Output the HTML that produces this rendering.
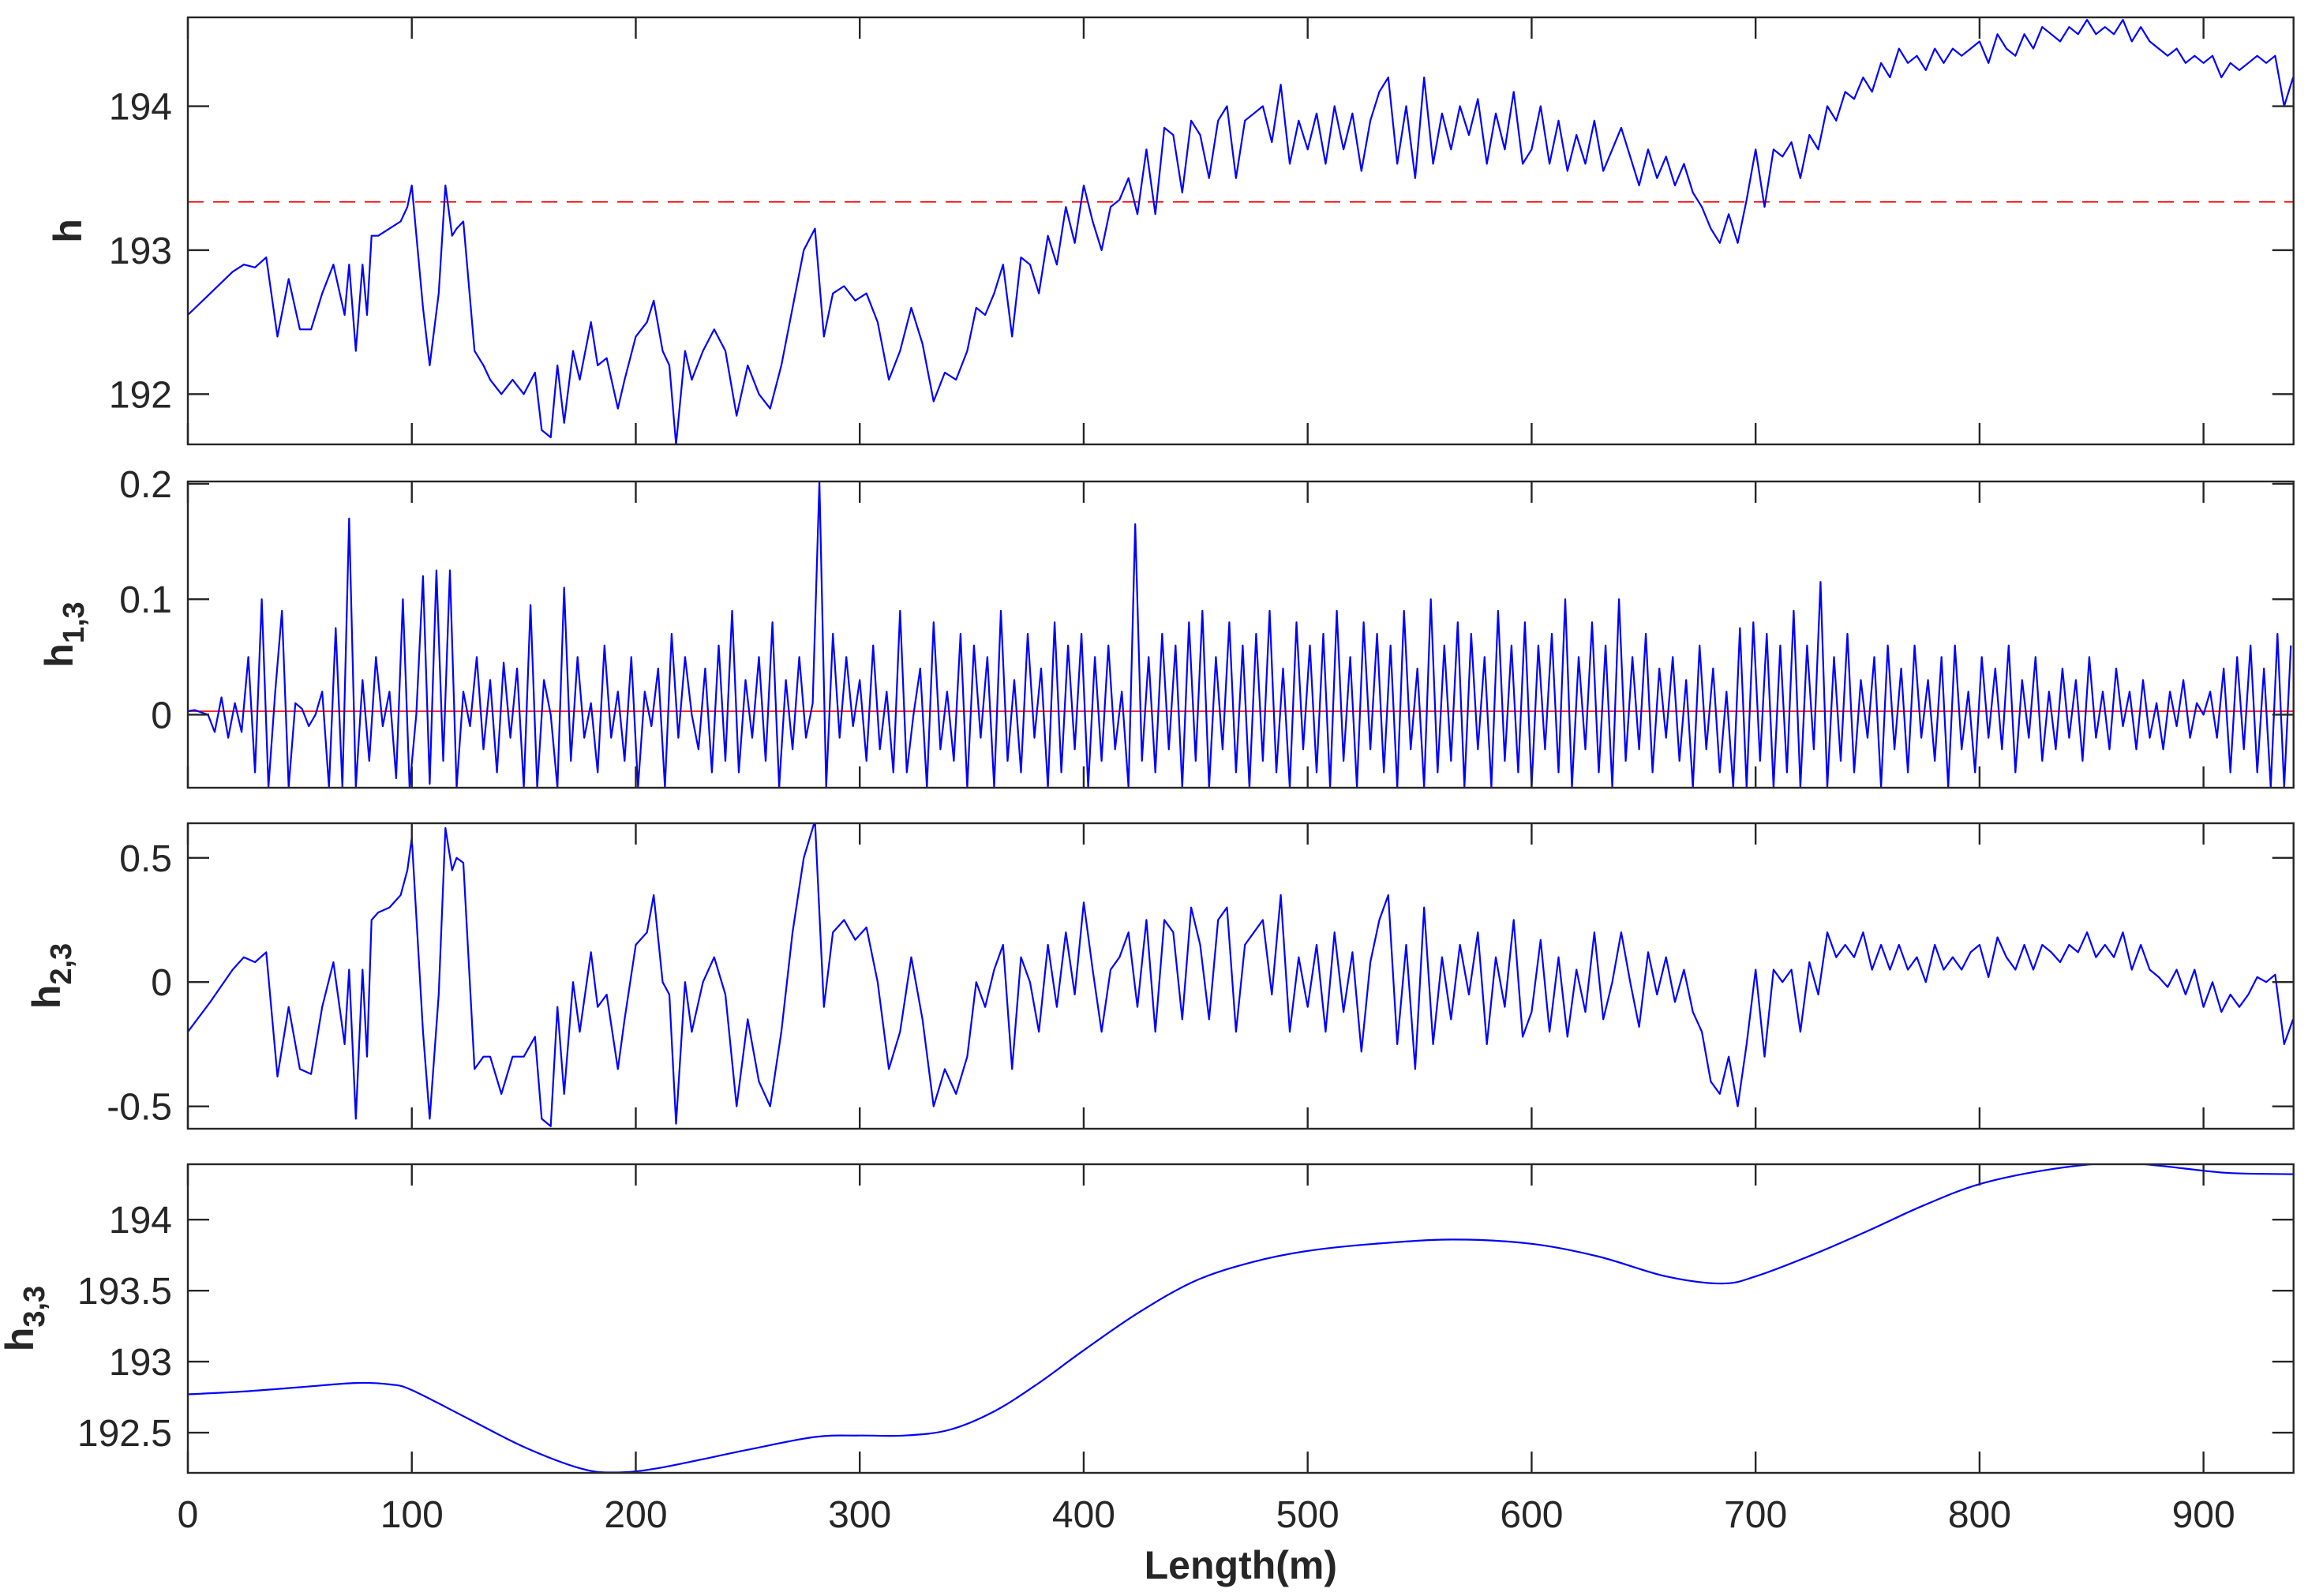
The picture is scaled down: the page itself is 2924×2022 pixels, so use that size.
<!DOCTYPE html>
<html><head><meta charset="utf-8">
<style>
html,body{margin:0;padding:0;background:#fff;}
svg{display:block;font-family:"Liberation Sans",Arial,sans-serif;}
</style></head>
<body>
<svg id="fig" width="2924" height="2022" viewBox="0 0 2924 2022" xmlns="http://www.w3.org/2000/svg"></svg>
<script>
const X_TICKS=[0,100,200,300,400,500,600,700,800,900];
const X_MAX=940.2;
const H_X=[0,10,20,25,30,35,40,45,50,55,60,65,70,72,75,78,80,82,85,90,95,98,100,105,108,112,115,118,120,123,128,132,135,140,145,150,155,158,162,165,168,172,175,180,183,187,192,195,200,205,208,212,215,218,222,225,230,235,240,245,250,255,260,265,270,275,280,284,288,293,298,303,308,313,318,323,328,333,338,343,348,352,356,360,364,368,372,376,380,384,388,392,396,400,404,408,412,416,420,424,428,432,436,440,444,448,452,456,460,464,468,472,476,480,484,488,492,496,500,504,508,512,516,520,524,528,532,536,540,544,548,552,556,560,564,568,572,576,580,584,588,592,596,600,604,608,612,616,620,624,628,632,636,640,644,648,652,656,660,664,668,672,676,680,684,688,692,696,700,704,708,712,716,720,724,728,732,736,740,744,748,752,756,760,764,768,772,776,780,784,788,792,796,800,804,808,812,816,820,824,828,832,836,840,844,848,852,856,860,864,868,872,876,880,884,888,892,896,900,904,908,912,916,920,924,928,932,936,940];
const H_VALUES=[192.55,192.7,192.85,192.9,192.88,192.95,192.4,192.8,192.45,192.45,192.7,192.9,192.55,192.9,192.3,192.9,192.55,193.1,193.1,193.15,193.2,193.3,193.45,192.6,192.2,192.7,193.45,193.1,193.15,193.2,192.3,192.2,192.1,192.0,192.1,192.0,192.15,191.75,191.7,192.2,191.8,192.3,192.1,192.5,192.2,192.25,191.9,192.1,192.4,192.5,192.65,192.3,192.2,191.65,192.3,192.1,192.3,192.45,192.3,191.85,192.2,192.0,191.9,192.2,192.6,193.0,193.15,192.4,192.7,192.75,192.65,192.7,192.5,192.1,192.3,192.6,192.35,191.95,192.15,192.1,192.3,192.6,192.55,192.7,192.9,192.4,192.95,192.9,192.7,193.1,192.9,193.3,193.05,193.45,193.2,193.0,193.3,193.35,193.5,193.25,193.7,193.25,193.85,193.8,193.4,193.9,193.8,193.5,193.9,194.0,193.5,193.9,193.95,194.0,193.75,194.15,193.6,193.9,193.7,193.95,193.6,194.0,193.7,193.95,193.55,193.9,194.1,194.2,193.6,194.0,193.5,194.2,193.6,193.95,193.7,194.0,193.8,194.05,193.6,193.95,193.7,194.1,193.6,193.7,194.0,193.6,193.9,193.55,193.8,193.6,193.9,193.55,193.7,193.85,193.65,193.45,193.7,193.5,193.65,193.45,193.6,193.4,193.3,193.15,193.05,193.25,193.05,193.35,193.7,193.3,193.7,193.65,193.75,193.5,193.8,193.7,194.0,193.9,194.1,194.05,194.2,194.1,194.3,194.2,194.4,194.3,194.35,194.25,194.4,194.3,194.4,194.35,194.4,194.45,194.3,194.5,194.4,194.35,194.5,194.4,194.55,194.5,194.45,194.55,194.5,194.6,194.5,194.55,194.5,194.6,194.45,194.55,194.45,194.4,194.35,194.4,194.3,194.35,194.3,194.35,194.2,194.3,194.25,194.3,194.35,194.3,194.35,194.0,194.2];
const H_MEAN=193.335;
const H13_STEP=3;
const H13_VALUES=[0.003,0.004,0.002,0.0,-0.015,0.015,-0.02,0.01,-0.015,0.05,
-0.05,0.1,-0.063,0.02,0.09,-0.063,0.01,0.005,-0.01,0.0,
0.02,-0.063,0.075,-0.063,0.17,-0.063,0.03,-0.04,0.05,-0.01,
0.02,-0.055,0.1,-0.063,0.0,0.12,-0.06,0.125,-0.04,0.125,
-0.063,0.02,-0.01,0.05,-0.03,0.03,-0.05,0.045,-0.02,0.04,
-0.063,0.095,-0.063,0.03,0.0,-0.063,0.11,-0.04,0.05,-0.02,
0.01,-0.05,0.06,-0.02,0.02,-0.04,0.05,-0.063,0.02,-0.01,
0.04,-0.063,0.07,-0.02,0.05,0.0,-0.03,0.04,-0.05,0.06,
-0.04,0.09,-0.05,0.03,-0.02,0.05,-0.04,0.08,-0.063,0.03,
-0.03,0.05,-0.02,0.01,0.202,-0.063,0.07,-0.02,0.05,-0.01,
0.03,-0.04,0.06,-0.03,0.02,-0.05,0.09,-0.05,0.0,0.04,
-0.063,0.08,-0.03,0.02,-0.04,0.07,-0.063,0.06,-0.02,0.05,
-0.063,0.09,-0.04,0.03,-0.05,0.07,-0.02,0.04,-0.063,0.08,
-0.05,0.06,-0.03,0.07,-0.063,0.05,-0.04,0.06,-0.03,0.02,
-0.063,0.165,-0.04,0.05,-0.05,0.07,-0.03,0.06,-0.063,0.08,
-0.04,0.09,-0.063,0.05,-0.03,0.08,-0.05,0.06,-0.063,0.07,
-0.04,0.09,-0.05,0.04,-0.063,0.08,-0.03,0.06,-0.05,0.07,
-0.063,0.09,-0.04,0.05,-0.063,0.08,-0.03,0.07,-0.05,0.06,
-0.063,0.09,-0.03,0.04,-0.063,0.1,-0.05,0.06,-0.04,0.08,
-0.063,0.07,-0.03,0.05,-0.063,0.09,-0.04,0.06,-0.05,0.08,
-0.063,0.06,-0.03,0.07,-0.05,0.1,-0.063,0.05,-0.03,0.08,
-0.05,0.06,-0.063,0.1,-0.04,0.05,-0.03,0.07,-0.05,0.04,
-0.02,0.05,-0.04,0.03,-0.063,0.06,-0.03,0.04,-0.05,0.02,
-0.063,0.075,-0.063,0.08,-0.04,0.07,-0.063,0.06,-0.05,0.09,
-0.063,0.06,-0.03,0.115,-0.063,0.05,-0.04,0.07,-0.05,0.03,
-0.02,0.05,-0.063,0.06,-0.03,0.04,-0.05,0.06,-0.02,0.03,
-0.04,0.05,-0.063,0.06,-0.03,0.02,-0.05,0.05,-0.02,0.04,
-0.03,0.06,-0.05,0.03,-0.02,0.05,-0.04,0.02,-0.03,0.04,
-0.02,0.03,-0.04,0.05,-0.02,0.02,-0.03,0.04,-0.01,0.02,
-0.03,0.03,-0.02,0.01,-0.03,0.02,-0.01,0.03,-0.02,0.01,
0.0,0.02,-0.02,0.04,-0.05,0.05,-0.03,0.06,-0.05,0.04,
-0.063,0.07,-0.063,0.06];
const H13_MEAN=0.003;
const H23_VALUES=[-0.2,-0.08,0.05,0.1,0.08,0.12,-0.38,-0.1,-0.35,-0.37,-0.1,0.08,-0.25,0.05,-0.55,0.05,-0.3,0.25,0.28,0.3,0.35,0.45,0.58,-0.2,-0.55,-0.05,0.62,0.45,0.5,0.48,-0.35,-0.3,-0.3,-0.45,-0.3,-0.3,-0.22,-0.55,-0.58,-0.1,-0.45,0.0,-0.2,0.12,-0.1,-0.05,-0.35,-0.15,0.15,0.2,0.35,0.0,-0.05,-0.57,0.0,-0.2,0.0,0.1,-0.05,-0.5,-0.15,-0.4,-0.5,-0.2,0.2,0.5,0.65,-0.1,0.2,0.25,0.17,0.22,0.0,-0.35,-0.2,0.1,-0.15,-0.5,-0.35,-0.45,-0.3,0.0,-0.1,0.05,0.15,-0.35,0.1,0.0,-0.2,0.15,-0.1,0.2,-0.05,0.32,0.05,-0.2,0.05,0.1,0.2,-0.1,0.25,-0.2,0.25,0.2,-0.15,0.3,0.15,-0.15,0.25,0.3,-0.2,0.15,0.2,0.25,-0.05,0.35,-0.2,0.1,-0.1,0.15,-0.2,0.2,-0.12,0.12,-0.28,0.08,0.25,0.35,-0.25,0.15,-0.35,0.3,-0.25,0.1,-0.15,0.15,-0.05,0.2,-0.25,0.1,-0.1,0.25,-0.22,-0.12,0.17,-0.2,0.1,-0.22,0.05,-0.12,0.2,-0.15,0.0,0.2,0.0,-0.18,0.12,-0.05,0.1,-0.08,0.05,-0.12,-0.2,-0.4,-0.45,-0.3,-0.5,-0.25,0.05,-0.3,0.05,0.0,0.05,-0.2,0.08,-0.05,0.2,0.1,0.15,0.1,0.2,0.05,0.15,0.05,0.15,0.05,0.1,0.0,0.15,0.05,0.1,0.05,0.12,0.15,0.02,0.18,0.1,0.05,0.15,0.05,0.15,0.12,0.08,0.15,0.12,0.2,0.1,0.15,0.1,0.2,0.05,0.15,0.05,0.02,-0.02,0.05,-0.05,0.05,-0.1,0.0,-0.12,-0.05,-0.1,-0.05,0.02,0.0,0.03,-0.25,-0.15];
const H33_X=[0,25,50,75,90,100,125,150,175,190,210,250,280,300,320,340,360,380,400,425,450,475,500,530,565,600,630,660,685,700,725,750,775,800,830,860,880,910,940];
const H33_VALUES=[192.77,192.79,192.82,192.85,192.84,192.8,192.6,192.4,192.25,192.22,192.25,192.38,192.47,192.48,192.48,192.52,192.65,192.85,193.08,193.35,193.57,193.7,193.78,193.83,193.86,193.83,193.74,193.6,193.55,193.6,193.75,193.92,194.1,194.25,194.35,194.4,194.38,194.33,194.32];

const NS='http://www.w3.org/2000/svg';
const svg=document.getElementById('fig');
const L=238,R=2905.7;
function sx(v){return L+(v/X_MAX)*(R-L);}
function mk(tag,attrs,parent){const e=document.createElementNS(NS,tag);for(const k in attrs)e.setAttribute(k,attrs[k]);(parent||svg).appendChild(e);return e;}

const panels=[
 {name:'h',top:22,bot:563,ymin:191.651,ymax:194.617,ticks:[192,193,194],labels:['192','193','194'],lab:'h',sub:'',labX:103},
 {name:'h13',top:610,bot:998,ymin:-0.0633,ymax:0.202,ticks:[0,0.1,0.2],labels:['0','0.1','0.2'],lab:'h',sub:'1,3',labX:92},
 {name:'h23',top:1043,bot:1430,ymin:-0.59,ymax:0.639,ticks:[-0.5,0,0.5],labels:['-0.5','0','0.5'],lab:'h',sub:'2,3',labX:76},
 {name:'h33',top:1475,bot:1866,ymin:192.217,ymax:194.39,ticks:[192.5,193,193.5,194],labels:['192.5','193','193.5','194'],lab:'h',sub:'3,3',labX:42}
];

panels.forEach((p,pi)=>{
  const sy=v=>p.bot-(v-p.ymin)/(p.ymax-p.ymin)*(p.bot-p.top);
  const g=mk('g',{});
  
  
  const defs=mk('defs',{},g);
  const cp=mk('clipPath',{id:'clip'+pi},defs);
  mk('rect',{x:L,y:p.top,width:R-L,height:p.bot-p.top},cp);
  // data
  let xs,ys;
  if(pi===0){xs=H_X;ys=H_VALUES;}
  else if(pi===1){xs=H13_VALUES.map((v,i)=>i*H13_STEP);ys=H13_VALUES;}
  else if(pi===2){xs=H_X;ys=H23_VALUES;}
  else {xs=H33_X;ys=H33_VALUES;}
  let d='';
  if(pi===3){
    // smooth curve via Catmull-Rom through data points
    const pts=xs.map((x,i)=>[sx(x),sy(ys[i])]);
    d='M'+pts[0][0].toFixed(1)+','+pts[0][1].toFixed(1);
    for(let i=0;i<pts.length-1;i++){
      const p0=pts[Math.max(0,i-1)],p1=pts[i],p2=pts[i+1],p3=pts[Math.min(pts.length-1,i+2)];
      const c1=[p1[0]+(p2[0]-p0[0])/6,p1[1]+(p2[1]-p0[1])/6];
      const c2=[p2[0]-(p3[0]-p1[0])/6,p2[1]-(p3[1]-p1[1])/6];
      d+='C'+c1[0].toFixed(1)+','+c1[1].toFixed(1)+' '+c2[0].toFixed(1)+','+c2[1].toFixed(1)+' '+p2[0].toFixed(1)+','+p2[1].toFixed(1);
    }
  } else {
    d=xs.map((x,i)=>(i?'L':'M')+sx(x).toFixed(1)+','+sy(ys[i]).toFixed(1)).join('');
  }
  if(pi===0){
    const ml=mk('line',{x1:L,x2:R,y1:sy(H_MEAN),y2:sy(H_MEAN),stroke:'#ff0000','stroke-width':1.6,'stroke-dasharray':'20,12'},g);
    
    
  }
  if(pi===1){
    const ml=mk('line',{x1:L,x2:R,y1:sy(H13_MEAN),y2:sy(H13_MEAN),stroke:'#ff0000','stroke-width':1.6},g);
    
    
  }
  const line=mk('path',{d:d,fill:'none',stroke:'#0000ff','stroke-width':2.2,'clip-path':'url(#clip'+pi+')','stroke-linejoin':'round'},g);
  
  
  // frame
  const fr=mk('rect',{x:L,y:p.top,width:R-L,height:p.bot-p.top,fill:'none',stroke:'#262626','stroke-width':2.4},g);
  
  
  // x ticks
  X_TICKS.forEach(t=>{
    const x=sx(t);
    mk('line',{x1:x,x2:x,y1:p.bot,y2:p.bot-27,stroke:'#262626','stroke-width':2.4},g);
    mk('line',{x1:x,x2:x,y1:p.top,y2:p.top+27,stroke:'#262626','stroke-width':2.4},g);
  });
  // y ticks and labels
  p.ticks.forEach((t,i)=>{
    const y=sy(t);
    mk('line',{x1:L,x2:L+27,y1:y,y2:y,stroke:'#262626','stroke-width':2.4},g);
    mk('line',{x1:R,x2:R-27,y1:y,y2:y,stroke:'#262626','stroke-width':2.4},g);
    const tx=mk('text',{x:218,y:y+17,'text-anchor':'end','font-size':48,fill:'#262626'},g);
    tx.textContent=p.labels[i];
    
    
  });
  // y label
  const cy=(p.top+p.bot)/2;
  const yl=mk('text',{transform:'translate('+p.labX+','+cy+') rotate(-90)','text-anchor':'middle','font-size':50,'font-weight':'bold',fill:'#262626'},g);
  
  
  const t1=mk('tspan',{},yl);t1.textContent=p.lab;
  if(p.sub){const t2=mk('tspan',{dy:14,'font-size':38},yl);t2.textContent=p.sub;}
});

// x tick labels on bottom panel
X_TICKS.forEach(t=>{
  const tx=mk('text',{x:sx(t),y:1935,'text-anchor':'middle','font-size':48,fill:'#262626'});
  tx.textContent=String(t);
  
  
});
const xt=mk('text',{x:(L+R)/2,y:2000,'text-anchor':'middle','font-size':50,'font-weight':'bold',fill:'#262626'});
xt.textContent='Length(m)';


</script>
</body></html>
